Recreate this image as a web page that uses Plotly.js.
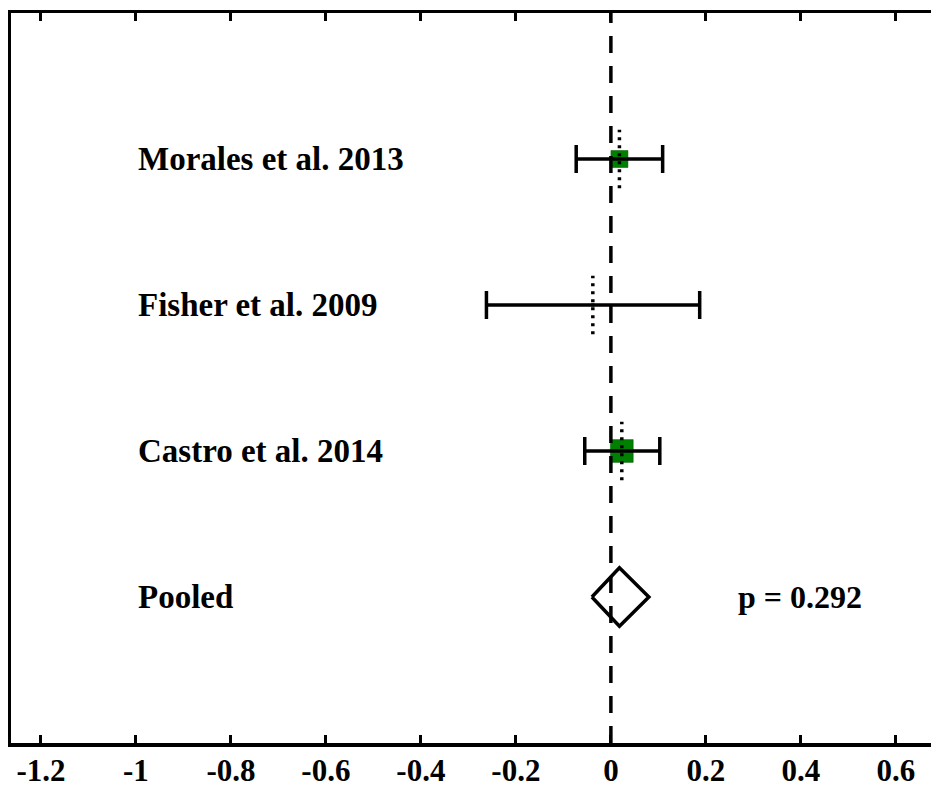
<!DOCTYPE html>
<html>
<head>
<meta charset="utf-8">
<script src="https://cdn.plot.ly/plotly-3.0.1.min.js"></script>
<style>html,body{margin:0;padding:0;background:#fff;}#chart{width:931px;height:790px;}</style>
</head>
<body>
<div id="chart"></div>
<script>
// ---- data ----
const studies = ["Morales et al. 2013", "Fisher et al. 2009", "Castro et al. 2014"];
const rows = [4, 3, 2];
const estimates = [0.018, -0.038, 0.023];
const ciLow = [-0.073, -0.262, -0.055];
const ciHigh = [0.109, 0.187, 0.103];
const weights = [35, 1, 63];
const pooledLabel = "Pooled";
const pooledRow = 1;
const pooledEst = 0.018;
const pooledLow = -0.040;
const pooledHigh = 0.080;
const pText = "p = 0.292";
const tickVals = [-1.2, -1, -0.8, -0.6, -0.4, -0.2, 0, 0.2, 0.4, 0.6];
const tickLabels = ["-1.2", "-1", "-0.8", "-0.6", "-0.4", "-0.2", "0", "0.2", "0.4", "0.6"];

// ---- build ----
const FONT = "Liberation Serif, Times New Roman, serif";
const sizeK = 17 / Math.sqrt(35);
const halfH = 0.2;

const squares = {
  x: estimates, y: rows, mode: "markers", type: "scatter", hoverinfo: "skip",
  marker: {symbol: "square", color: "#008000", opacity: 1,
    size: weights.map(w => Math.sqrt(w) * sizeK), line: {width: 0.5, color: "#005000"}}
};

const ci = {
  x: estimates, y: rows, mode: "markers", type: "scatter", hoverinfo: "skip",
  marker: {size: 0.1, color: "rgba(0,0,0,0)"},
  error_x: {type: "data", symmetric: false,
    array: ciHigh.map((h, i) => h - estimates[i]),
    arrayminus: estimates.map((e, i) => e - ciLow[i]),
    color: "#000", thickness: 3.5, width: 14}
};

const dx = [], dy = [];
estimates.forEach((e, i) => { dx.push(e, e, null); dy.push(rows[i] - halfH, rows[i] + halfH, null); });
const dots = {
  x: dx, y: dy, mode: "lines", type: "scatter", hoverinfo: "skip",
  line: {color: "#000", width: 3.5, dash: "3px,5px"}
};

const diamond = {
  x: [pooledLow, pooledEst, pooledHigh, pooledEst, pooledLow],
  y: [pooledRow, pooledRow + halfH, pooledRow, pooledRow - halfH, pooledRow],
  mode: "lines", type: "scatter", hoverinfo: "skip",
  line: {color: "#000", width: 3.5}
};

const labFont = {family: FONT, size: 33, weight: "bold", color: "#000"};
const annotations = studies.map((s, i) => ({
  x: -1, y: rows[i], xref: "x", yref: "y", text: s, showarrow: false,
  xanchor: "left", yanchor: "middle", font: labFont
}));
annotations.push({
  x: -1, y: pooledRow, xref: "x", yref: "y", text: pooledLabel, showarrow: false,
  xanchor: "left", yanchor: "middle", font: labFont
});
annotations.push({
  x: 0.264, y: pooledRow, xref: "x", yref: "y", text: pText, showarrow: false,
  xanchor: "left", yanchor: "middle", font: {family: FONT, size: 32, weight: "bold", color: "#000"}
});

const layout = {
  width: 931, height: 790,
  margin: {l: 11, r: 0, t: 13, b: 47},
  paper_bgcolor: "#fff", plot_bgcolor: "#fff",
  showlegend: false,
  xaxis: {
    range: [-1.263, 0.674], tickvals: tickVals, ticktext: tickLabels,
    ticks: "inside", ticklen: 8, tickwidth: 3, tickcolor: "#000",
    showline: true, linewidth: 3.5, linecolor: "#000", mirror: "ticks",
    showgrid: false, zeroline: false, ticklabelstandoff: -3,
    tickfont: {family: FONT, size: 31, weight: "bold", color: "#000"}
  },
  yaxis: {
    range: [0, 5], showticklabels: false, ticks: "",
    showline: true, linewidth: 3.5, linecolor: "#000",
    showgrid: false, zeroline: false
  },
  shapes: [{type: "line", xref: "x", yref: "paper", x0: 0, x1: 0, y0: 0, y1: 1,
    line: {color: "#000", width: 3.5, dash: "17px,13px"}}],
  annotations: annotations
};

Plotly.newPlot("chart", [squares, ci, dots, diamond], layout, {staticPlot: true, displayModeBar: false});
</script>
</body>
</html>
